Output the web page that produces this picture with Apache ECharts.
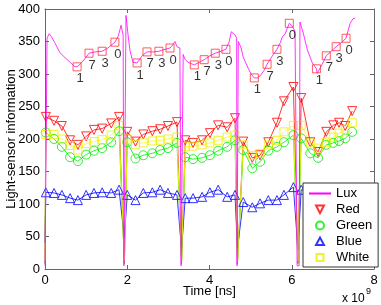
<!DOCTYPE html>
<html><head><meta charset="utf-8">
<script src="https://cdn.jsdelivr.net/npm/echarts@6/dist/echarts.min.js"></script>
<style>html,body{margin:0;padding:0;background:#fff}#c{width:381px;height:305px}</style>
</head><body><div id="c"></div>
<script>
// ---- data (time in ns-units of the x axis, values in sensor counts) ----
const xTicks = [0, 2, 4, 6, 8];
const yTicks = [0, 50, 100, 150, 200, 250, 300, 350, 400];

const luxT = [0.00,0.05,0.10,0.15,0.24,0.36,0.49,0.61,0.71,0.78,0.90,1.00,1.07,1.22,1.39,1.53,1.70,1.78,1.85,1.90,1.92,
  1.95,1.97,2.02,2.07,2.14,2.24,2.36,2.48,2.63,2.77,2.92,3.04,3.11,3.16,3.21,3.28,3.31,
  3.35,3.36,3.41,3.48,3.55,3.63,3.75,3.87,4.01,4.14,4.28,4.40,4.48,4.53,4.57,4.62,4.66,4.67,
  4.68,4.70,4.77,4.82,4.89,4.94,5.01,5.09,5.16,5.23,5.33,5.40,5.52,5.64,5.72,5.77,5.84,5.94,6.03,6.08,6.13,
  6.18,6.20,6.28,6.38,6.50,6.60,6.62,6.74,6.84,6.96,7.08,7.20,7.32,7.42,7.49,7.54];
const luxV = [5,355,362,358,348,333,325,318,312,311,318,326,332,334,335,340,349,358,375,360,5,
  5,390,360,335,318,317,328,334,334,335,338,340,345,350,342,340,5,
  5,330,322,318,316,314,318,322,328,332,335,338,350,365,368,360,355,5,
  5,350,340,326,316,309,300,294,294,297,306,315,327,338,348,357,362,378,372,365,5,
  5,380,363,337,317,308,301,315,328,335,342,348,355,378,385,386];

const luxMarkT = [0.78,1.07,1.39,1.70, 2.24,2.48,2.77,3.04, 3.63,3.87,4.14,4.40, 5.09,5.40,5.64,5.94, 6.60,6.84,7.08,7.32];
const luxMarkV = [311,332,335,349, 317,334,335,340, 314,322,332,338, 294,315,338,378, 308,328,342,355];
const luxMarkLabel = ['1','7','3','0','1','7','3','0','1','7','3','0','1','7','3','0','1','7','3','0'];

const markT = [0.02,0.22,0.41,0.61,0.80,1.00,1.19,1.39,1.61,1.80,
  2.00,2.20,2.39,2.61,2.80,2.99,3.21,
  3.41,3.60,3.82,4.01,4.21,4.43,4.62,
  4.82,5.04,5.23,5.43,5.64,5.81,6.04,
  6.23,6.45,6.64,6.84,7.01,7.15,7.30,7.47];
const red   = [234,228,220,198,191,204,214,216,224,234, 211,196,207,212,215,220,226, 198,194,198,209,221,218,232, 196,171,175,195,225,258,280, 263,195,180,211,221,225,220,243];
const green = [210,200,188,172,166,176,182,186,195,212, 195,170,175,178,183,186,194, 172,169,171,175,182,188,198, 183,155,165,182,188,195,206, 201,178,171,191,194,197,201,211];
const white = [207,207,200,190,183,193,196,199,206,221, 200,192,194,197,198,200,203, 188,189,191,194,198,203,206, 191,175,178,191,198,211,221, 221,194,186,195,203,209,215,225];
const blue  = [118,117,114,109,106,114,117,118,117,122, 114,106,117,118,122,117,114, 109,109,111,118,122,111,114, 103,95,101,106,106,114,126, 122,118,115,114,115,116,117,118];

// drop-outs at the start of each measurement block
const spikeT   = [0.00,1.93,3.32,4.68,6.15];
const redLow   = [10,10,10,10,10];
const greenLow = [8,8,8,8,8];
const whiteLow = [12,12,12,12,12];
const blueLow  = [40,48,30,32,30];

// ---- build ----
function pairs(t, v) { return t.map((x, i) => [x, v[i]]); }
function merged(v, low) {
  return pairs(markT, v).concat(pairs(spikeT, low)).sort((a, b) => a[0] - b[0]);
}
const FONT = 'Liberation Sans';
const AX = '#666';
const BOX = 'M0,0M22,9';
const ICONS = {
  Red: 'path://' + BOX + 'M7,0.5L15,0.5L11,8Z',
  Green: 'path://' + BOX + 'M15,4.5A4,4,0,1,1,7,4.5A4,4,0,1,1,15,4.5Z',
  Blue: 'path://' + BOX + 'M7,8L15,8L11,0.5Z',
  White: 'path://' + BOX + 'M7.5,1L14.5,1L14.5,8L7.5,8Z'
};
function lineS(name, v, low, color) {
  return { type: 'line', name: name, data: merged(v, low), symbol: 'none', silent: true,
    lineStyle: { color: color, width: 0.8 }, itemStyle: { color: color }, z: 2 };
}
function markS(name, v, color, symbol, rot, size) {
  return { type: 'scatter', name: name, data: pairs(markT, v), symbol: symbol, symbolRotate: rot,
    symbolSize: size, itemStyle: { color: 'rgba(255,255,255,0)', borderColor: color, borderWidth: 1 }, z: 3 };
}

const chart = echarts.init(document.getElementById('c'), null, { renderer: 'canvas' });
const axisCommon = {
  type: 'value', axisLine: { show: true, onZero: false, lineStyle: { color: AX, width: 1 } },
  axisTick: { show: true, inside: true, length: 4, lineStyle: { color: AX } },
  splitLine: { show: false }, nameMoveOverlap: false
};
chart.setOption({
  animation: false,
  backgroundColor: '#fff',
  textStyle: { fontFamily: FONT },
  grid: { left: 45, right: 7, top: 9, bottom: 36, containLabel: false, outerBoundsMode: 'none' },
  xAxis: [
    Object.assign({}, axisCommon, { min: xTicks[0], max: xTicks[xTicks.length - 1], interval: xTicks[1] - xTicks[0],
      axisLabel: { color: '#000', fontSize: 13, margin: 5, fontFamily: FONT },
      name: 'Time [ns]', nameLocation: 'middle', nameGap: 16,
      nameTextStyle: { color: '#000', fontSize: 13, fontFamily: FONT } }),
    Object.assign({}, axisCommon, { position: 'top', min: xTicks[0], max: xTicks[xTicks.length - 1],
      interval: xTicks[1] - xTicks[0], axisLabel: { show: false } })
  ],
  yAxis: [
    Object.assign({}, axisCommon, { min: yTicks[0], max: yTicks[yTicks.length - 1], interval: yTicks[1] - yTicks[0],
      axisLabel: { color: '#000', fontSize: 13, margin: 5, fontFamily: FONT },
      name: 'Light-sensor information', nameLocation: 'middle', nameGap: 27,
      nameTextStyle: { color: '#000', fontSize: 13, fontFamily: FONT } }),
    Object.assign({}, axisCommon, { position: 'right', min: yTicks[0], max: yTicks[yTicks.length - 1],
      interval: yTicks[1] - yTicks[0], axisLabel: { show: false } })
  ],
  legend: {
    orient: 'vertical', left: 303, top: 183, itemWidth: 22, itemHeight: 9, itemGap: 3,
    padding: [4, 6, 3, 5], backgroundColor: '#fff', borderColor: '#333', borderWidth: 1, borderRadius: 0,
    textStyle: { fontSize: 13, color: '#000', fontFamily: FONT },
    data: [
      { name: 'Lux' },
      { name: 'Red', icon: ICONS.Red },
      { name: 'Green', icon: ICONS.Green },
      { name: 'Blue', icon: ICONS.Blue },
      { name: 'White', icon: ICONS.White }
    ], zlevel: 1, z: 100
  },
  graphic: [
    { type: 'text', left: 342, top: 293, style: { text: 'x 10', fontSize: 12, fontFamily: FONT, fill: '#000' } },
    { type: 'text', left: 366, top: 287, style: { text: '9', fontSize: 9, fontFamily: FONT, fill: '#000' } }
  ],
  series: [
    lineS('red-line', red, redLow, '#ff0000'),
    lineS('green-line', green, greenLow, '#00ee00'),
    lineS('blue-line', blue, blueLow, '#0000ff'),
    lineS('white-line', white, whiteLow, '#ffff00'),
    markS('Red', red, '#ff0000', 'triangle', 180, 9),
    markS('Green', green, '#00ee00', 'circle', 0, 9),
    markS('Blue', blue, '#0000ff', 'triangle', 0, 9),
    markS('White', white, '#eeee00', 'rect', 0, 8),
    { type: 'line', name: 'Lux', data: pairs(luxT, luxV), symbol: 'line', showSymbol: false, z: 4,
      lineStyle: { color: '#ff00ff', width: 0.8 }, itemStyle: { color: '#ff00ff', borderColor: '#ff00ff' } },
    { type: 'scatter', name: 'lux-mark', data: pairs(luxMarkT, luxMarkV), symbol: 'rect', symbolSize: 8, z: 5,
      itemStyle: { color: 'rgba(255,255,255,0)', borderColor: '#ff3333', borderWidth: 1 },
      label: { show: true, position: 'inside', offset: [3, 12], color: '#000', fontSize: 13, fontFamily: FONT,
        formatter: p => luxMarkLabel[p.dataIndex] } }
  ]
});
</script></body></html>
